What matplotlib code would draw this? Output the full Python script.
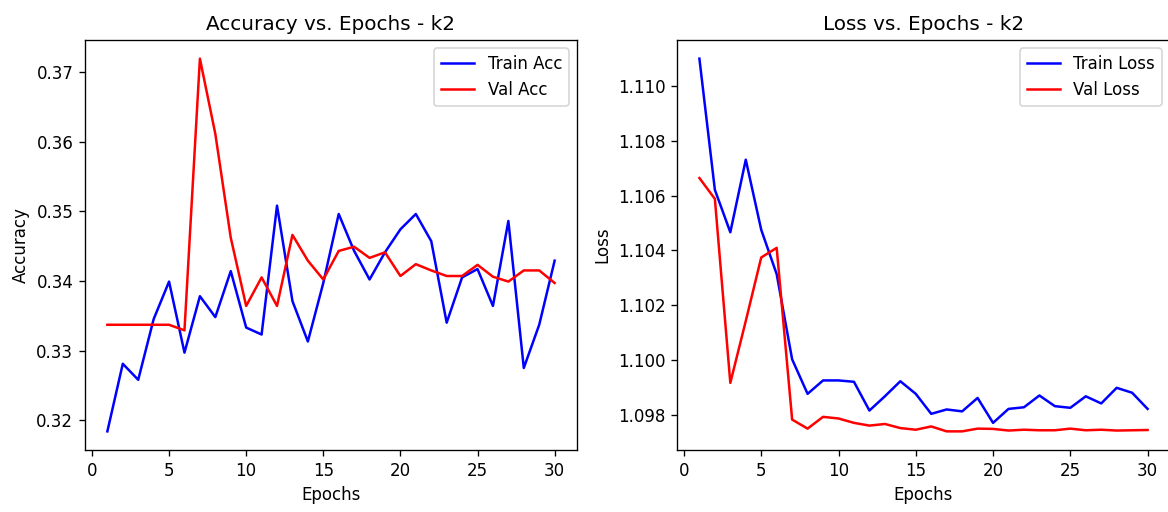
import matplotlib
matplotlib.use("Agg")
import matplotlib.pyplot as plt

epochs = list(range(1, 31))

train_acc = [0.3184, 0.3281, 0.3258, 0.3345, 0.3399, 0.3297, 0.3378, 0.3348, 0.3414, 0.3333,
             0.3323, 0.3508, 0.3371, 0.3313, 0.3397, 0.3496, 0.3443, 0.3402, 0.3441, 0.3474,
             0.3496, 0.3457, 0.3340, 0.3405, 0.3417, 0.3364, 0.3486, 0.3275, 0.3337, 0.3429]
val_acc = [0.3337, 0.3337, 0.3337, 0.3337, 0.3337, 0.3329, 0.3719, 0.3611, 0.3462, 0.3364,
           0.3405, 0.3364, 0.3466, 0.3429, 0.3402, 0.3443, 0.3449, 0.3433, 0.3441, 0.3407,
           0.3424, 0.3415, 0.3407, 0.3407, 0.3423, 0.3406, 0.3399, 0.3415, 0.3415, 0.3397]

train_loss = [1.1110, 1.10621, 1.10466, 1.10731, 1.10475, 1.10313, 1.10002, 1.09876, 1.09925, 1.09925,
              1.09920, 1.09815, 1.09867, 1.09922, 1.09876, 1.09803, 1.09819, 1.09812, 1.09861, 1.09770,
              1.09821, 1.09827, 1.09870, 1.09831, 1.09825, 1.09867, 1.09841, 1.09898, 1.09880, 1.09821]
val_loss = [1.10664, 1.10588, 1.09916, 1.10142, 1.10374, 1.10409, 1.09782, 1.09749, 1.09792, 1.09786,
            1.09770, 1.09760, 1.09766, 1.09751, 1.09745, 1.09757, 1.09739, 1.09739, 1.09749, 1.09748,
            1.09742, 1.09745, 1.09743, 1.09743, 1.09749, 1.09743, 1.09745, 1.09742, 1.09743, 1.09744]

W, H = 1168, 512
DPI = 120
fig = plt.figure(figsize=(W / DPI, H / DPI), dpi=DPI)

ax1 = fig.add_axes([85 / W, (H - 450) / H, 492 / W, 410 / H])
ax2 = fig.add_axes([677 / W, (H - 450) / H, 493 / W, 410 / H])

ax1.plot(epochs, train_acc, color="blue", label="Train Acc")
ax1.plot(epochs, val_acc, color="red", label="Val Acc")
ax1.set_title("Accuracy vs. Epochs - k2")
ax1.set_xlabel("Epochs")
ax1.set_ylabel("Accuracy")
ax1.legend(loc="upper right")

ax2.plot(epochs, train_loss, color="blue", label="Train Loss")
ax2.plot(epochs, val_loss, color="red", label="Val Loss")
ax2.set_title("Loss vs. Epochs - k2")
ax2.set_xlabel("Epochs")
ax2.set_ylabel("Loss")
ax2.legend(loc="upper right")

fig.savefig("out.png", dpi=DPI)
